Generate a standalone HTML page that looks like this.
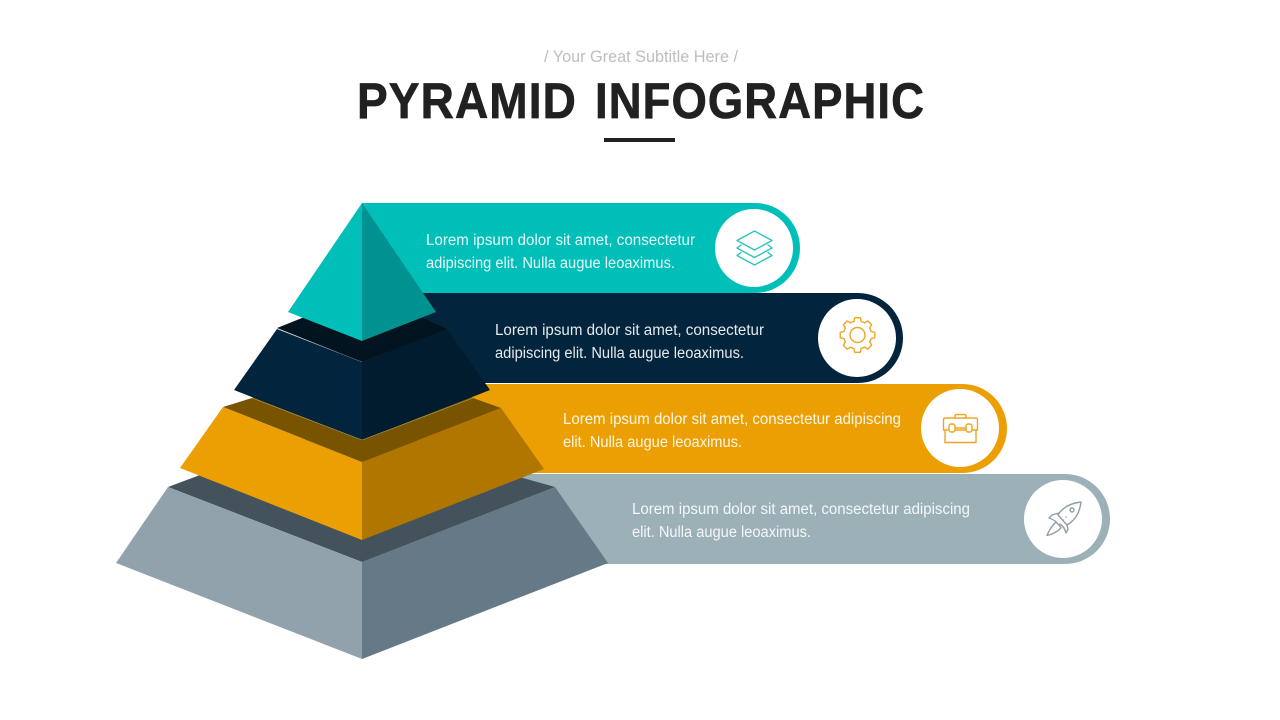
<!DOCTYPE html>
<html lang="en">
<head>
<meta charset="utf-8">
<title>Pyramid Infographic</title>
<style>
html,body{margin:0;padding:0;background:#fff;width:1280px;height:720px;overflow:hidden}
svg{display:block}
text{font-family:"Liberation Sans",sans-serif}
.b{fill:#fff;fill-opacity:.9;font-size:15.5px}
.i{fill:none;stroke-width:1.4;stroke-linejoin:round;stroke-linecap:round}
</style>
</head>
<body>
<svg width="1280" height="720" viewBox="0 0 1280 720" xmlns="http://www.w3.org/2000/svg">
<rect width="1280" height="720" fill="#fff"/>
<text x="544" y="62" font-size="16.5" fill="#bdbdbd" textLength="194" lengthAdjust="spacingAndGlyphs">/ Your Great Subtitle Here /</text>
<g font-size="50" font-weight="700" fill="#212121" stroke="#212121" stroke-width=".7" letter-spacing="1.200">
<text x="357" y="118" textLength="220" lengthAdjust="spacingAndGlyphs">PYRAMID</text>
<text x="595" y="118" textLength="330" lengthAdjust="spacingAndGlyphs">INFOGRAPHIC</text>
</g>
<rect x="604" y="138" width="71" height="4" fill="#212121"/>

<path d="M362 203H755a45 45 0 0 1 0 90H362Z" fill="#00bfb9"/>
<path d="M362 293H858a45 45 0 0 1 0 90H362Z" fill="#02243c"/>
<path d="M362 384H962.500a44.500 44.500 0 0 1 0 89H362Z" fill="#ec9f03"/>
<path d="M362 474H1065a45 45 0 0 1 0 90H362Z" fill="#9cb0b8"/>
<circle cx="754" cy="248" r="39" fill="#fff"/>
<circle cx="857" cy="338" r="39" fill="#fff"/>
<circle cx="960" cy="428" r="39" fill="#fff"/>
<circle cx="1063" cy="519" r="39" fill="#fff"/>

<text class="b" x="426" y="245" textLength="269" lengthAdjust="spacingAndGlyphs">Lorem ipsum dolor sit amet, consectetur</text>
<text class="b" x="426" y="268" textLength="249" lengthAdjust="spacingAndGlyphs">adipiscing elit. Nulla augue leoaximus.</text>
<text class="b" x="495" y="335" textLength="269" lengthAdjust="spacingAndGlyphs">Lorem ipsum dolor sit amet, consectetur</text>
<text class="b" x="495" y="358" textLength="249" lengthAdjust="spacingAndGlyphs">adipiscing elit. Nulla augue leoaximus.</text>
<text class="b" x="563" y="424" textLength="338" lengthAdjust="spacingAndGlyphs">Lorem ipsum dolor sit amet, consectetur adipiscing</text>
<text class="b" x="563" y="447" textLength="179" lengthAdjust="spacingAndGlyphs">elit. Nulla augue leoaximus.</text>
<text class="b" x="632" y="514" textLength="338" lengthAdjust="spacingAndGlyphs">Lorem ipsum dolor sit amet, consectetur adipiscing</text>
<text class="b" x="632" y="537" textLength="179" lengthAdjust="spacingAndGlyphs">elit. Nulla augue leoaximus.</text>

<!-- Gray tier -->
<path d="M168 487L200 475L362 420L523 478L555 487L362 562Z" fill="#44535b"/>
<path d="M168 487L116 563L362 659V562Z" fill="#92a2ad"/>
<path d="M555 487L608 563L362 659V562Z" fill="#657987"/>
<!-- Gold tier -->
<path d="M223 407L252 398L362 340L473 398L501 408L362 462Z" fill="#785400"/>
<path d="M223 407L180 468L362 540V462Z" fill="#ec9f03"/>
<path d="M501 408L544 469L362 540V462Z" fill="#b17600"/>
<!-- Navy tier -->
<path d="M277 328L302 318L362 280L423 318L447 329L362 362Z" fill="#02141f"/>
<path d="M277 329L234 390L362 440V362Z" fill="#02243c"/>
<path d="M447 329L490 390L362 440V362Z" fill="#011c2e"/>
<path d="M277 329L362 362" stroke="#7f8a8c" stroke-width=".5" fill="none"/>
<path d="M252 398L362 440L473 398" stroke="#c9b070" stroke-width=".5" fill="none"/>
<!-- Teal tier -->
<path d="M362 203L288 312L362 341Z" fill="#00bfb9"/>
<path d="M362 203L436 312L362 341Z" fill="#009290"/>

<!-- Layers icon -->
<g class="i" stroke="#2cc4bf">
<path d="M754.500 231L772 240.500L754.500 250L737 240.500Z"/>
<path d="M741 245L737 248L754.500 257.500L772 248L768 245"/>
<path d="M741 252.500L737 255.500L754.500 265L772 255.500L768 252.500"/>
</g>
<!-- Gear icon -->
<g class="i" stroke="#eda624">
<circle cx="857.500" cy="335" r="7.500"/>
<path transform="translate(857.500 335)" d="M-2.740-17.280L2.740-17.280L3.620-13.520A14 14 0 0 1 7-12.120L10.290-14.160L14.160-10.290L12.120-7A14 14 0 0 1 13.520-3.620L17.280-2.740L17.280 2.740L13.520 3.620A14 14 0 0 1 12.120 7L14.160 10.290L10.290 14.160L7 12.120A14 14 0 0 1 3.620 13.520L2.740 17.280L-2.740 17.280L-3.620 13.520A14 14 0 0 1-7 12.120L-10.290 14.160L-14.160 10.290L-12.120 7A14 14 0 0 1-13.520 3.620L-17.280 2.740L-17.280-2.740L-13.520-3.620A14 14 0 0 1-12.120-7L-14.160-10.290L-10.290-14.160L-7-12.120A14 14 0 0 1-3.620-13.520Z"/>
</g>
<!-- Briefcase icon -->
<g class="i" stroke="#eda624">
<path d="M949 430H943.500V420C943.500 418.500 944 418 945.500 418H975.500C977 418 977.500 418.500 977.500 420V430H972"/>
<path d="M955 430H966"/>
<path d="M945 430V442.500H976V430"/>
<path d="M955 418V416C955 415 955.500 414.500 956.500 414.500H964.500C965.500 414.500 966 415 966 416V418"/>
<rect x="949" y="424" width="6" height="8" rx="2"/>
<rect x="966" y="424" width="6" height="8" rx="2"/>
<path d="M955 428H966"/>
</g>
<!-- Rocket icon -->
<g class="i" stroke="#8f9ea6">
<path d="M1081 502C1073 503 1065 506 1060 512L1058 515L1067 525L1070 523C1077 518 1080 510 1081 502Z"/>
<circle cx="1072" cy="510" r="2"/>
<path d="M1059 513L1052 515L1049 518C1052 519 1054 520 1056 522"/>
<path d="M1067 525L1068 529L1066 533C1065 529 1063 526 1060 524"/>
<path d="M1056 522C1052 526 1049 530 1047 535.500C1052 534.500 1057 532 1061 528C1060 526 1058 524 1056 522Z"/>
<path d="M1063 520H1063.100M1066 517H1066.100"/>
</g>
</svg>
</body>
</html>
